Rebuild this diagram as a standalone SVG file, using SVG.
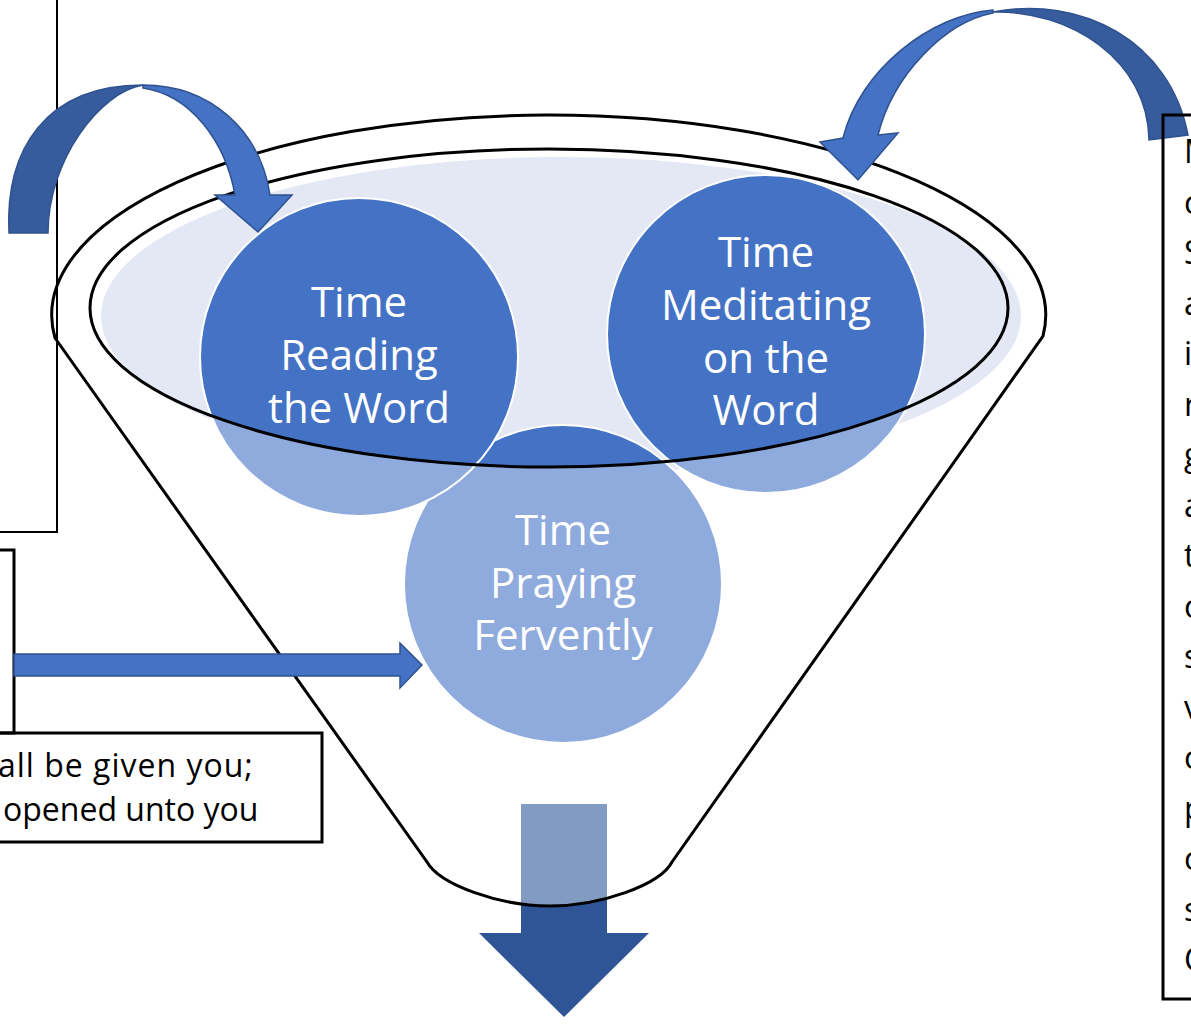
<svg xmlns="http://www.w3.org/2000/svg" width="1191" height="1024" viewBox="0 0 1191 1024">
<style>
.box{fill:none;stroke:#000;stroke-width:3}
.thin{fill:none;stroke:#000;stroke-width:2}
.lbl{font-family:"Open Sans","Liberation Sans",sans-serif;font-size:42px;fill:#fff;text-anchor:middle}
.txt{font-family:"Open Sans","Liberation Sans",sans-serif;font-size:32px;fill:#000}
.light{fill:#8FAADC}
.dark{fill:#4472C4}
.ring{fill:none;stroke:#fff;stroke-width:2}
.line{fill:none;stroke:#000;stroke-width:3}
.arrL{fill:#4472C4;stroke:#2F528F;stroke-width:1.5}
.arrD{fill:#365C9D;stroke:#2F528F;stroke-width:1.5}
</style>
<defs>
<clipPath id="inner"><ellipse cx="549" cy="308" rx="459" ry="159"/></clipPath>
<clipPath id="funnelClip"><path d="M55,338 L427,862 C440,885 500,906 550,906 C600,906 660,885 672,862 L1043,336 A497,200 0 1 0 55,338 Z"/></clipPath>
</defs>
<rect width="1191" height="1024" fill="#fff"/>

<g id="down-arrow">
<path d="M521,804 L607,804 L607,933 L649,933 L564,1017 L479,933 L521,933 Z" fill="#2F5597"/>
<rect x="521" y="804" width="86" height="130" fill="#829BC2" clip-path="url(#funnelClip)"/>
</g>

<g id="funnel-fill">
<ellipse cx="561" cy="316" rx="461" ry="160" fill="#E3E8F4" stroke="#fff" stroke-width="2"/>
</g>

<g id="node-praying">
<circle cx="563" cy="584" r="159" class="light"/>
<circle cx="563" cy="584" r="159" class="dark" clip-path="url(#inner)"/>
<circle cx="563" cy="584" r="159" class="ring"/>
</g>
<g id="node-reading">
<circle cx="359" cy="357" r="159" class="light"/>
<circle cx="359" cy="357" r="159" class="dark" clip-path="url(#inner)"/>
<circle cx="359" cy="357" r="159" class="ring"/>
</g>
<g id="node-meditating">
<circle cx="766" cy="334" r="159" class="light"/>
<circle cx="766" cy="334" r="159" class="dark" clip-path="url(#inner)"/>
<circle cx="766" cy="334" r="159" class="ring"/>
</g>

<g id="funnel">
<ellipse cx="549" cy="308" rx="459" ry="159" class="line"/>
<path class="line" d="M55,338 L427,862 C440,885 500,906 550,906 C600,906 660,885 672,862 L1043,336 A497,200 0 1 0 55,338 Z"/>
</g>

<g id="labels">
<text class="lbl" x="359" y="317">Time</text>
<text class="lbl" x="359" y="370">Reading</text>
<text class="lbl" x="359" y="423">the Word</text>
<text class="lbl" x="766" y="267">Time</text>
<text class="lbl" x="766" y="320">Meditating</text>
<text class="lbl" x="766" y="373">on the</text>
<text class="lbl" x="766" y="425">Word</text>
<text class="lbl" x="563" y="545">Time</text>
<text class="lbl" x="563" y="598">Praying</text>
<text class="lbl" x="563" y="650">Fervently</text>
</g>

<g id="boxes">
<path class="thin" d="M57,0 L57,532 L0,532"/>
<path class="box" d="M0,550 L14,550 L14,733 L0,733"/>
<path class="box" d="M0,733 L322,733 L322,842 L0,842"/>
<text class="txt" x="-2" y="777" letter-spacing="1">all be given you;</text>
<text class="txt" x="3" y="821">opened unto you</text>
</g>

<g id="connectors">
<path class="arrL" d="M14,654 L400,654 L400,643 L422,665 L400,688 L400,676 L14,676 Z"/>
<path class="arrD" d="M9,233 C5,150 45,85 143,85 C100,92 48,160 48,233 Z"/>
<path class="arrL" d="M143,85 C210,85 260,130 270,195 L292,195 L258,232 L215,195 L235,195 C225,140 190,95 143,88 Z"/>
<path class="arrD" d="M993,12 C1080,-5 1170,40 1188,135 L1149,140 C1148,60 1070,10 993,12 Z"/>
<path class="arrL" d="M993,10 C930,15 860,70 843,138 L820,142 L858,180 L898,133 L878,135 C893,75 945,22 993,13 Z"/>
</g>

<g id="right-box">
<path class="box" d="M1191,115 L1163,115 L1163,999 L1191,999"/>
<text class="txt">
<tspan x="1184" y="163">M</tspan>
<tspan x="1184" y="213.5">c</tspan>
<tspan x="1184" y="264">S</tspan>
<tspan x="1184" y="314.5">a</tspan>
<tspan x="1184" y="365">i</tspan>
<tspan x="1184" y="415.5">r</tspan>
<tspan x="1184" y="466">g</tspan>
<tspan x="1184" y="516.5">a</tspan>
<tspan x="1184" y="567">t</tspan>
<tspan x="1184" y="617.5">c</tspan>
<tspan x="1184" y="668">s</tspan>
<tspan x="1184" y="718.5">v</tspan>
<tspan x="1184" y="769">c</tspan>
<tspan x="1184" y="819.5">p</tspan>
<tspan x="1184" y="870">c</tspan>
<tspan x="1184" y="920.5">s</tspan>
<tspan x="1184" y="971">C</tspan>
</text>
</g>
</svg>
